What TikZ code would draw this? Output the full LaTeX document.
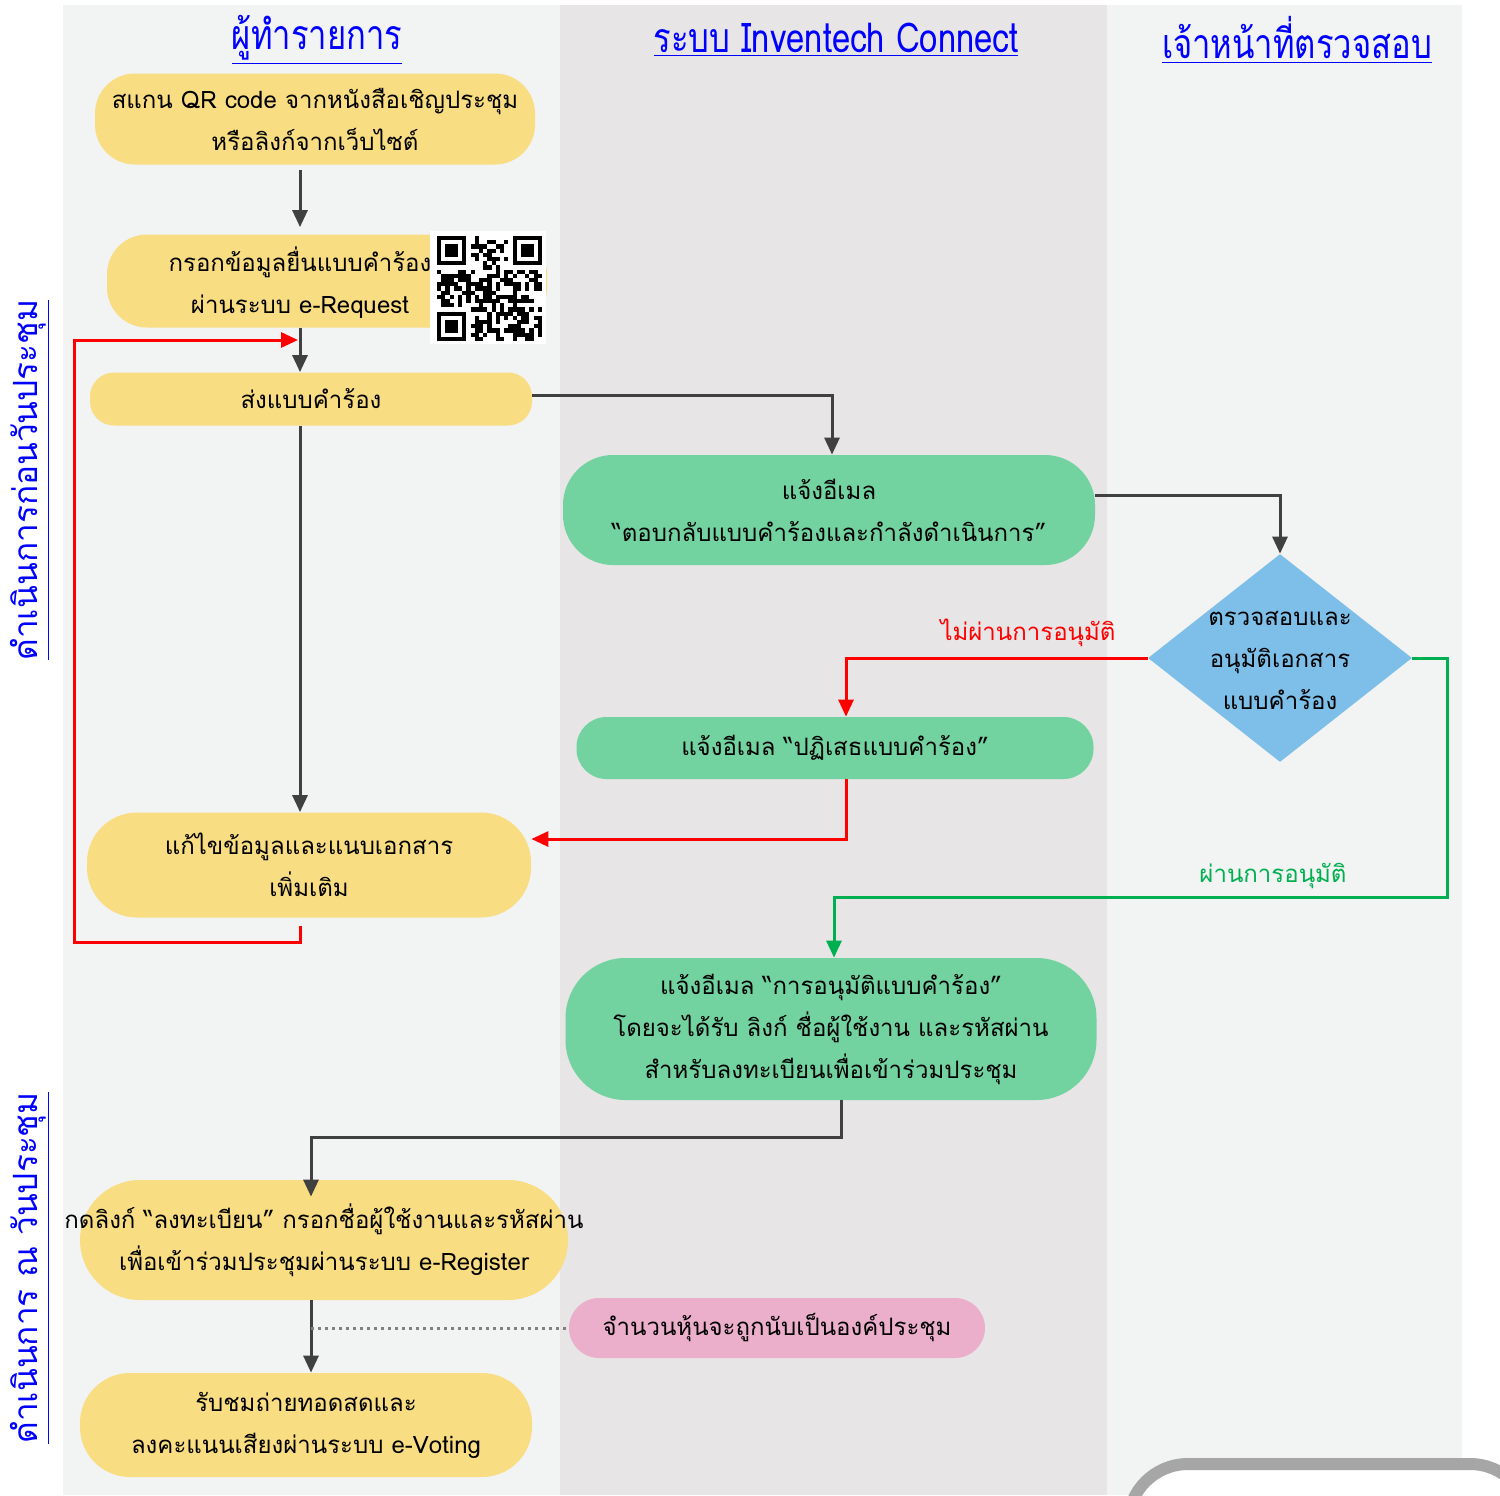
\documentclass[tikz,border=0pt]{standalone}
\usepackage{fontspec}
\setmainfont[Script=Thai]{Loma}
\newfontfamily\headfont[Script=Thai,FakeStretch=0.8]{Loma}
\usetikzlibrary{shapes.geometric,arrows.meta}
\definecolor{laneA}{HTML}{F2F3F3}
\definecolor{laneB}{HTML}{E7E5E6}
\definecolor{boxyellow}{HTML}{F8DD82}
\definecolor{boxgreen}{HTML}{73D3A0}
\definecolor{boxblue}{HTML}{7DBFE8}
\definecolor{boxpink}{HTML}{EBAFCB}
\definecolor{linkgray}{HTML}{404040}
\definecolor{okgreen}{HTML}{00B050}
\definecolor{headblue}{HTML}{0000FF}

\begin{document}
\begin{tikzpicture}[x=0.5pt,y=-0.5pt,
    every node/.style={font=\fontsize{12}{21}\selectfont,align=center,inner sep=0pt},
    ybox/.style={rectangle,rounded corners=20pt,fill=boxyellow},
    gbox/.style={rectangle,rounded corners=25pt,fill=boxgreen},
    head/.style={text=headblue,font=\headfont\fontsize{20.5}{24}\selectfont},
    side/.style={text=headblue,rotate=90,font=\fontsize{16.7}{20}\selectfont},
    link/.style={draw=linkgray,line width=1.5pt,-{Triangle[length=8.5pt,width=7.5pt]}},
    nolink/.style={draw=red,line width=1.5pt,-{Triangle[length=8.5pt,width=7.5pt]}},
    oklink/.style={draw=okgreen,line width=1.5pt,-{Triangle[length=8.5pt,width=7.5pt]}}]
    \useasboundingbox (0,0) rectangle (1500,1495);
    \clip (0,0) rectangle (1500,1495);
    \fill[laneA] (63,5) rectangle (560,1495);
    \fill[laneB] (560,5) rectangle (1107,1495);
    \fill[laneA] (1107,5) rectangle (1462,1495);

    \node at (317,40) [head] (h1) {\underline{ผู้ทำรายการ}};
    \node at (836,40) [head] (h2) {\underline{ระบบ Inventech Connect}};
    \node at (1297,40) [head] (h3) {\underline{เจ้าหน้าที่ตรวจสอบ}};
    \node at (30,480) [side] (s1) {\underline{ดำเนินการก่อนวันประชุม}};
    \node at (30,1268) [side] (s2) {\underline{ดำเนินการ ณ วันประชุม}};

    \coordinate (lane) at (300,0);
    \coordinate (lane2) at (311,0);
    \coordinate (back) at (298,340);

    \node at (315,119) [ybox,minimum width=220pt,minimum height=45.5pt] (scan) {สแกน QR code จากหนังสือเชิญประชุม\\หรือลิงก์จากเว็บไซต์};
    \node at (327,281) [ybox,minimum width=220pt,minimum height=46.5pt] (fill) {};
    \node at (300,283) (filltxt) {กรอกข้อมูลยื่นแบบคำร้อง\\ผ่านระบบ e-Request};
    \node at (311,399) [ybox,rounded corners=12pt,minimum width=221pt,minimum height=26.5pt] (send) {ส่งแบบคำร้อง};
    \node at (829,510) [gbox,minimum width=266pt,minimum height=55pt] (mail) {แจ้งอีเมล\\“ตอบกลับแบบคำร้องและกำลังดำเนินการ”};
    \node at (1280,658) [diamond,fill=boxblue,minimum width=132pt,minimum height=104pt] (check) {};
    \node at (1280,660) (checktxt) {ตรวจสอบและ\\อนุมัติเอกสาร\\แบบคำร้อง};
    \node at (835,748) [gbox,rounded corners=15pt,minimum width=258.5pt,minimum height=31pt] (reject) {แจ้งอีเมล “ปฏิเสธแบบคำร้อง”};
    \node at (309,865) [ybox,rounded corners=25pt,minimum width=222pt,minimum height=52.5pt] (fix) {แก้ไขข้อมูลและแนบเอกสาร\\เพิ่มเติม};
    \node at (831,1029) [gbox,rounded corners=30pt,minimum width=265.5pt,minimum height=71pt] (approve) {แจ้งอีเมล “การอนุมัติแบบคำร้อง”\\โดยจะได้รับ ลิงก์ ชื่อผู้ใช้งาน และรหัสผ่าน\\สำหรับลงทะเบียนเพื่อเข้าร่วมประชุม};
    \node at (324,1240) [ybox,rounded corners=30pt,minimum width=244pt,minimum height=60pt] (register) {\makebox[230pt]{กดลิงก์ “ลงทะเบียน” กรอกชื่อผู้ใช้งานและรหัสผ่าน}\\เพื่อเข้าร่วมประชุมผ่านระบบ e-Register};
    \node at (777,1328) [rectangle,rounded corners=15pt,fill=boxpink,minimum width=208pt,minimum height=30pt] (quorum) {จำนวนหุ้นจะถูกนับเป็นองค์ประชุม};
    \node at (306,1425) [ybox,rounded corners=25pt,minimum width=226pt,minimum height=52pt] (vote) {รับชมถ่ายทอดสดและ\\ลงคะแนนเสียงผ่านระบบ e-Voting};
    \node at (1028,633) [text=red] (nolabel) {ไม่ผ่านการอนุมัติ};
    \node at (1273,876) [text=okgreen] (oklabel) {ผ่านการอนุมัติ};

    \fill[white] (430,231) rectangle (546,344);
    \pgfmathsetseed{11}
    \foreach \i in {0,...,24}{\foreach \j in {0,...,24}{
        \pgfmathtruncatemacro\qrbit{(rnd<0.5)*!((\i<8&&\j<8)||(\i>16&&\j<8)||(\i<8&&\j>16))}
        \ifnum\qrbit=1 \fill (437+4.2*\i,236+4.2*\j) rectangle ++(4.25,4.25);\fi}}
    \foreach \fx/\fy in {0/0,18/0,0/18}{
        \fill (437+4.2*\fx,236+4.2*\fy) rectangle ++(29.4,29.4);
        \fill[white] (441.2+4.2*\fx,240.2+4.2*\fy) rectangle ++(21,21);
        \fill (445.4+4.2*\fx,244.4+4.2*\fy) rectangle ++(12.6,12.6);}

    \draw[line width=6pt,draw=gray!70,fill=white,rounded corners=30pt] (1128,1464) rectangle (1530,1620);

    \draw[link,shorten <=2.5pt,shorten >=3.5pt] (scan.south -| lane) -- (fill.north -| lane);
    \draw[link] (fill.south -| lane) -- (send.north -| lane);
    \draw[link] (send.south -| lane) -- (fix.north -| lane);
    \draw[link] ([yshift=2pt]send.east) -| ([xshift=1.5pt]mail.north);
    \draw[link] ([yshift=7.5pt]mail.east) -| (check.north);
    \draw[nolink] (check.west) -| ([xshift=5.5pt]reject.north);
    \draw[nolink] ([xshift=5.5pt]reject.south) |- ([yshift=13pt]fix.east);
    \draw[nolink] ([yshift=-4pt]fix.south -| lane) -- (lane |- 0,942) -- (74,942) -- (74,340) -- (back);
    \draw[oklink] (check.east) -- (1447,658) -- (1447,897) -| ([xshift=1.5pt]approve.north);
    \draw[link] ([xshift=5pt]approve.south) -- ++(0,37) -| ([yshift=-8.5pt]register.north -| lane2);
    \draw[link] (register.south -| lane2) -- (vote.north -| lane2);
    \draw[draw=gray,line width=1.5pt,dotted] (lane2 |- quorum.west) -- (quorum.west);
\end{tikzpicture}
\end{document}
